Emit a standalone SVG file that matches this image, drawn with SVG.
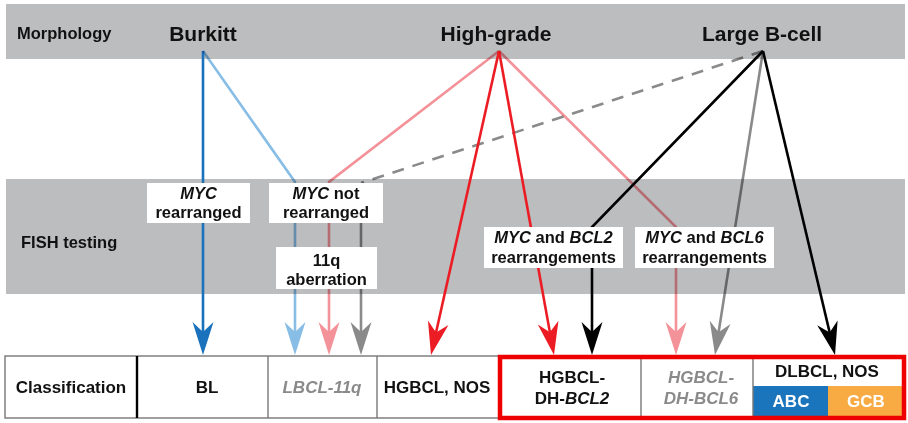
<svg xmlns="http://www.w3.org/2000/svg" width="908" height="423" viewBox="0 0 908 423">
<style>
text{font-family:"Liberation Sans",Arial,Helvetica,sans-serif;font-weight:bold;fill:#111}
.band{fill:#bcbdbf}
.hd{font-size:21px;text-anchor:middle}
.row{font-size:16.5px}
.lbl{font-size:16.5px;text-anchor:middle}
.cls{font-size:17px;text-anchor:middle}
.it{font-style:italic}
.gr{fill:#8a8a8a}
.wt{fill:#fff}
.box{fill:#fff}
.ln{fill:none;stroke-width:2.6}
.mul{mix-blend-mode:multiply}
.cell{fill:none;stroke:#777;stroke-width:1.4}
</style>
<defs>
<marker id="mDB" markerUnits="userSpaceOnUse" viewBox="-30 -15 40 30" markerWidth="40" markerHeight="30" refX="0" refY="0" orient="auto" overflow="visible"><path d="M8,0 L-25,-10.5 L-15,0 L-25,10.5 Z" fill="#1a72bd"/></marker>
<marker id="mLB" markerUnits="userSpaceOnUse" viewBox="-30 -15 40 30" markerWidth="40" markerHeight="30" refX="0" refY="0" orient="auto" overflow="visible"><path d="M8,0 L-25,-10.5 L-15,0 L-25,10.5 Z" fill="#88bde6"/></marker>
<marker id="mPK" markerUnits="userSpaceOnUse" viewBox="-30 -15 40 30" markerWidth="40" markerHeight="30" refX="0" refY="0" orient="auto" overflow="visible"><path d="M8,0 L-25,-10.5 L-15,0 L-25,10.5 Z" fill="#f4929a"/></marker>
<marker id="mGY" markerUnits="userSpaceOnUse" viewBox="-30 -15 40 30" markerWidth="40" markerHeight="30" refX="0" refY="0" orient="auto" overflow="visible"><path d="M8,0 L-25,-10.5 L-15,0 L-25,10.5 Z" fill="#8a8a8a"/></marker>
<marker id="mRD" markerUnits="userSpaceOnUse" viewBox="-30 -15 40 30" markerWidth="40" markerHeight="30" refX="0" refY="0" orient="auto" overflow="visible"><path d="M8,0 L-25,-10.5 L-15,0 L-25,10.5 Z" fill="#ec1c24"/></marker>
<marker id="mBK" markerUnits="userSpaceOnUse" viewBox="-30 -15 40 30" markerWidth="40" markerHeight="30" refX="0" refY="0" orient="auto" overflow="visible"><path d="M8,0 L-25,-10.5 L-15,0 L-25,10.5 Z" fill="#000"/></marker>
</defs>

<!-- bands -->
<g id="band-morphology">
<rect class="band" x="6" y="4" width="899" height="55"/>
<text class="row" x="17" y="39">Morphology</text>
</g>
<g id="band-fish">
<rect class="band" x="6" y="179" width="899" height="115"/>
<text class="row" x="21" y="248">FISH testing</text>
</g>

<!-- connectors -->
<g id="connectors">
<path class="ln" stroke="#1a72bd" d="M203,51 V347" marker-end="url(#mDB)"/>
<path class="ln mul" stroke="#88bde6" d="M203,51 L295,182 V347" marker-end="url(#mLB)"/>
<path class="ln mul" stroke="#f4929a" d="M499,51 L329,182 V347" marker-end="url(#mPK)"/>
<path class="ln mul" stroke="#8a8a8a" stroke-width="3" stroke-dasharray="12 9" d="M763,51 L361,183"/>
<path class="ln mul" stroke="#8a8a8a" d="M361,183 V347" marker-end="url(#mGY)"/>
<path class="ln" stroke="#ec1c24" d="M499,51 L432.75,347.19" marker-end="url(#mRD)"/>
<path class="ln" stroke="#ec1c24" d="M499,51 L552.58,347.13" marker-end="url(#mRD)"/>
<path class="ln mul" stroke="#f4929a" d="M499,51 L676,227 V347" marker-end="url(#mPK)"/>
<path class="ln" stroke="#000" d="M763,51 L592,227 V347" marker-end="url(#mBK)"/>
<path class="ln mul" stroke="#8a8a8a" d="M763,51 L716.25,347.1" marker-end="url(#mGY)"/>
<path class="ln" stroke="#000" d="M763,51 L833.16,347.2" marker-end="url(#mBK)"/>
</g>

<!-- morphology nodes -->
<g id="node-burkitt"><text class="hd" x="203" y="41">Burkitt</text></g>
<g id="node-highgrade"><text class="hd" x="496" y="41">High-grade</text></g>
<g id="node-largebcell"><text class="hd" x="762" y="41">Large B-cell</text></g>

<!-- FISH nodes -->
<g id="node-myc-rearranged">
<rect class="box" x="147" y="183" width="103" height="40"/>
<text class="lbl" x="198.5" y="199"><tspan class="it">MYC</tspan></text>
<text class="lbl" x="198.5" y="218">rearranged</text>
</g>
<g id="node-myc-not-rearranged">
<rect class="box" x="269" y="183" width="114" height="40"/>
<text class="lbl" x="326" y="199"><tspan class="it">MYC</tspan> not</text>
<text class="lbl" x="326" y="218">rearranged</text>
</g>
<g id="node-11q">
<rect class="box" x="276" y="247" width="101" height="42"/>
<text class="lbl" x="326.5" y="266">11q</text>
<text class="lbl" x="326.5" y="285">aberration</text>
</g>
<g id="node-myc-bcl2">
<rect class="box" x="484" y="227" width="139" height="41"/>
<text class="lbl" x="553.5" y="243"><tspan class="it">MYC</tspan> and <tspan class="it">BCL2</tspan></text>
<text class="lbl" x="553.5" y="263">rearrangements</text>
</g>
<g id="node-myc-bcl6">
<rect class="box" x="635" y="227" width="139" height="41"/>
<text class="lbl" x="704.5" y="243"><tspan class="it">MYC</tspan> and <tspan class="it">BCL6</tspan></text>
<text class="lbl" x="704.5" y="263">rearrangements</text>
</g>

<!-- classification row -->
<g id="classification-row">
<rect x="5" y="356" width="495" height="62" fill="#fff" stroke="#777" stroke-width="1.4"/>
<line x1="137" y1="356" x2="137" y2="418" stroke="#000" stroke-width="2.4"/>
<line class="cell" x1="268" y1="356" x2="268" y2="418"/>
<line class="cell" x1="377" y1="356" x2="377" y2="418"/>
<text class="cls" x="71" y="393">Classification</text>
</g>
<g id="node-bl"><text class="cls" x="207" y="393">BL</text></g>
<g id="node-lbcl11q"><text class="cls it gr" x="322" y="393">LBCL-11q</text></g>
<g id="node-hgbcl-nos"><text class="cls" x="437" y="393">HGBCL, NOS</text></g>
<g id="node-dlbcl-nos">
<rect x="753" y="357" width="150" height="30" fill="#fff"/>
<rect x="753" y="386" width="75.5" height="31" fill="#1a75bc"/>
<rect x="828" y="386" width="76" height="31" fill="#f8ab43"/>
<text class="cls" x="827" y="377">DLBCL, NOS</text>
<text class="cls wt" x="791" y="407">ABC</text>
<text class="cls wt" x="866" y="407">GCB</text>
</g>
<g id="node-hgbcl-dh-bcl2">
<text class="cls" x="572" y="383">HGBCL-</text>
<text class="cls" x="572" y="404">DH-<tspan class="it">BCL2</tspan></text>
</g>
<g id="node-hgbcl-dh-bcl6">
<text class="cls it gr" x="701" y="383">HGBCL-</text>
<text class="cls it gr" x="701" y="404">DH-BCL6</text>
</g>
<g id="red-frame">
<line class="cell" x1="641" y1="357" x2="641" y2="418"/>
<line class="cell" x1="753" y1="357" x2="753" y2="418"/>
<rect x="500" y="357" width="404" height="61" fill="none" stroke="#ee0000" stroke-width="4.5"/>
</g>
</svg>
